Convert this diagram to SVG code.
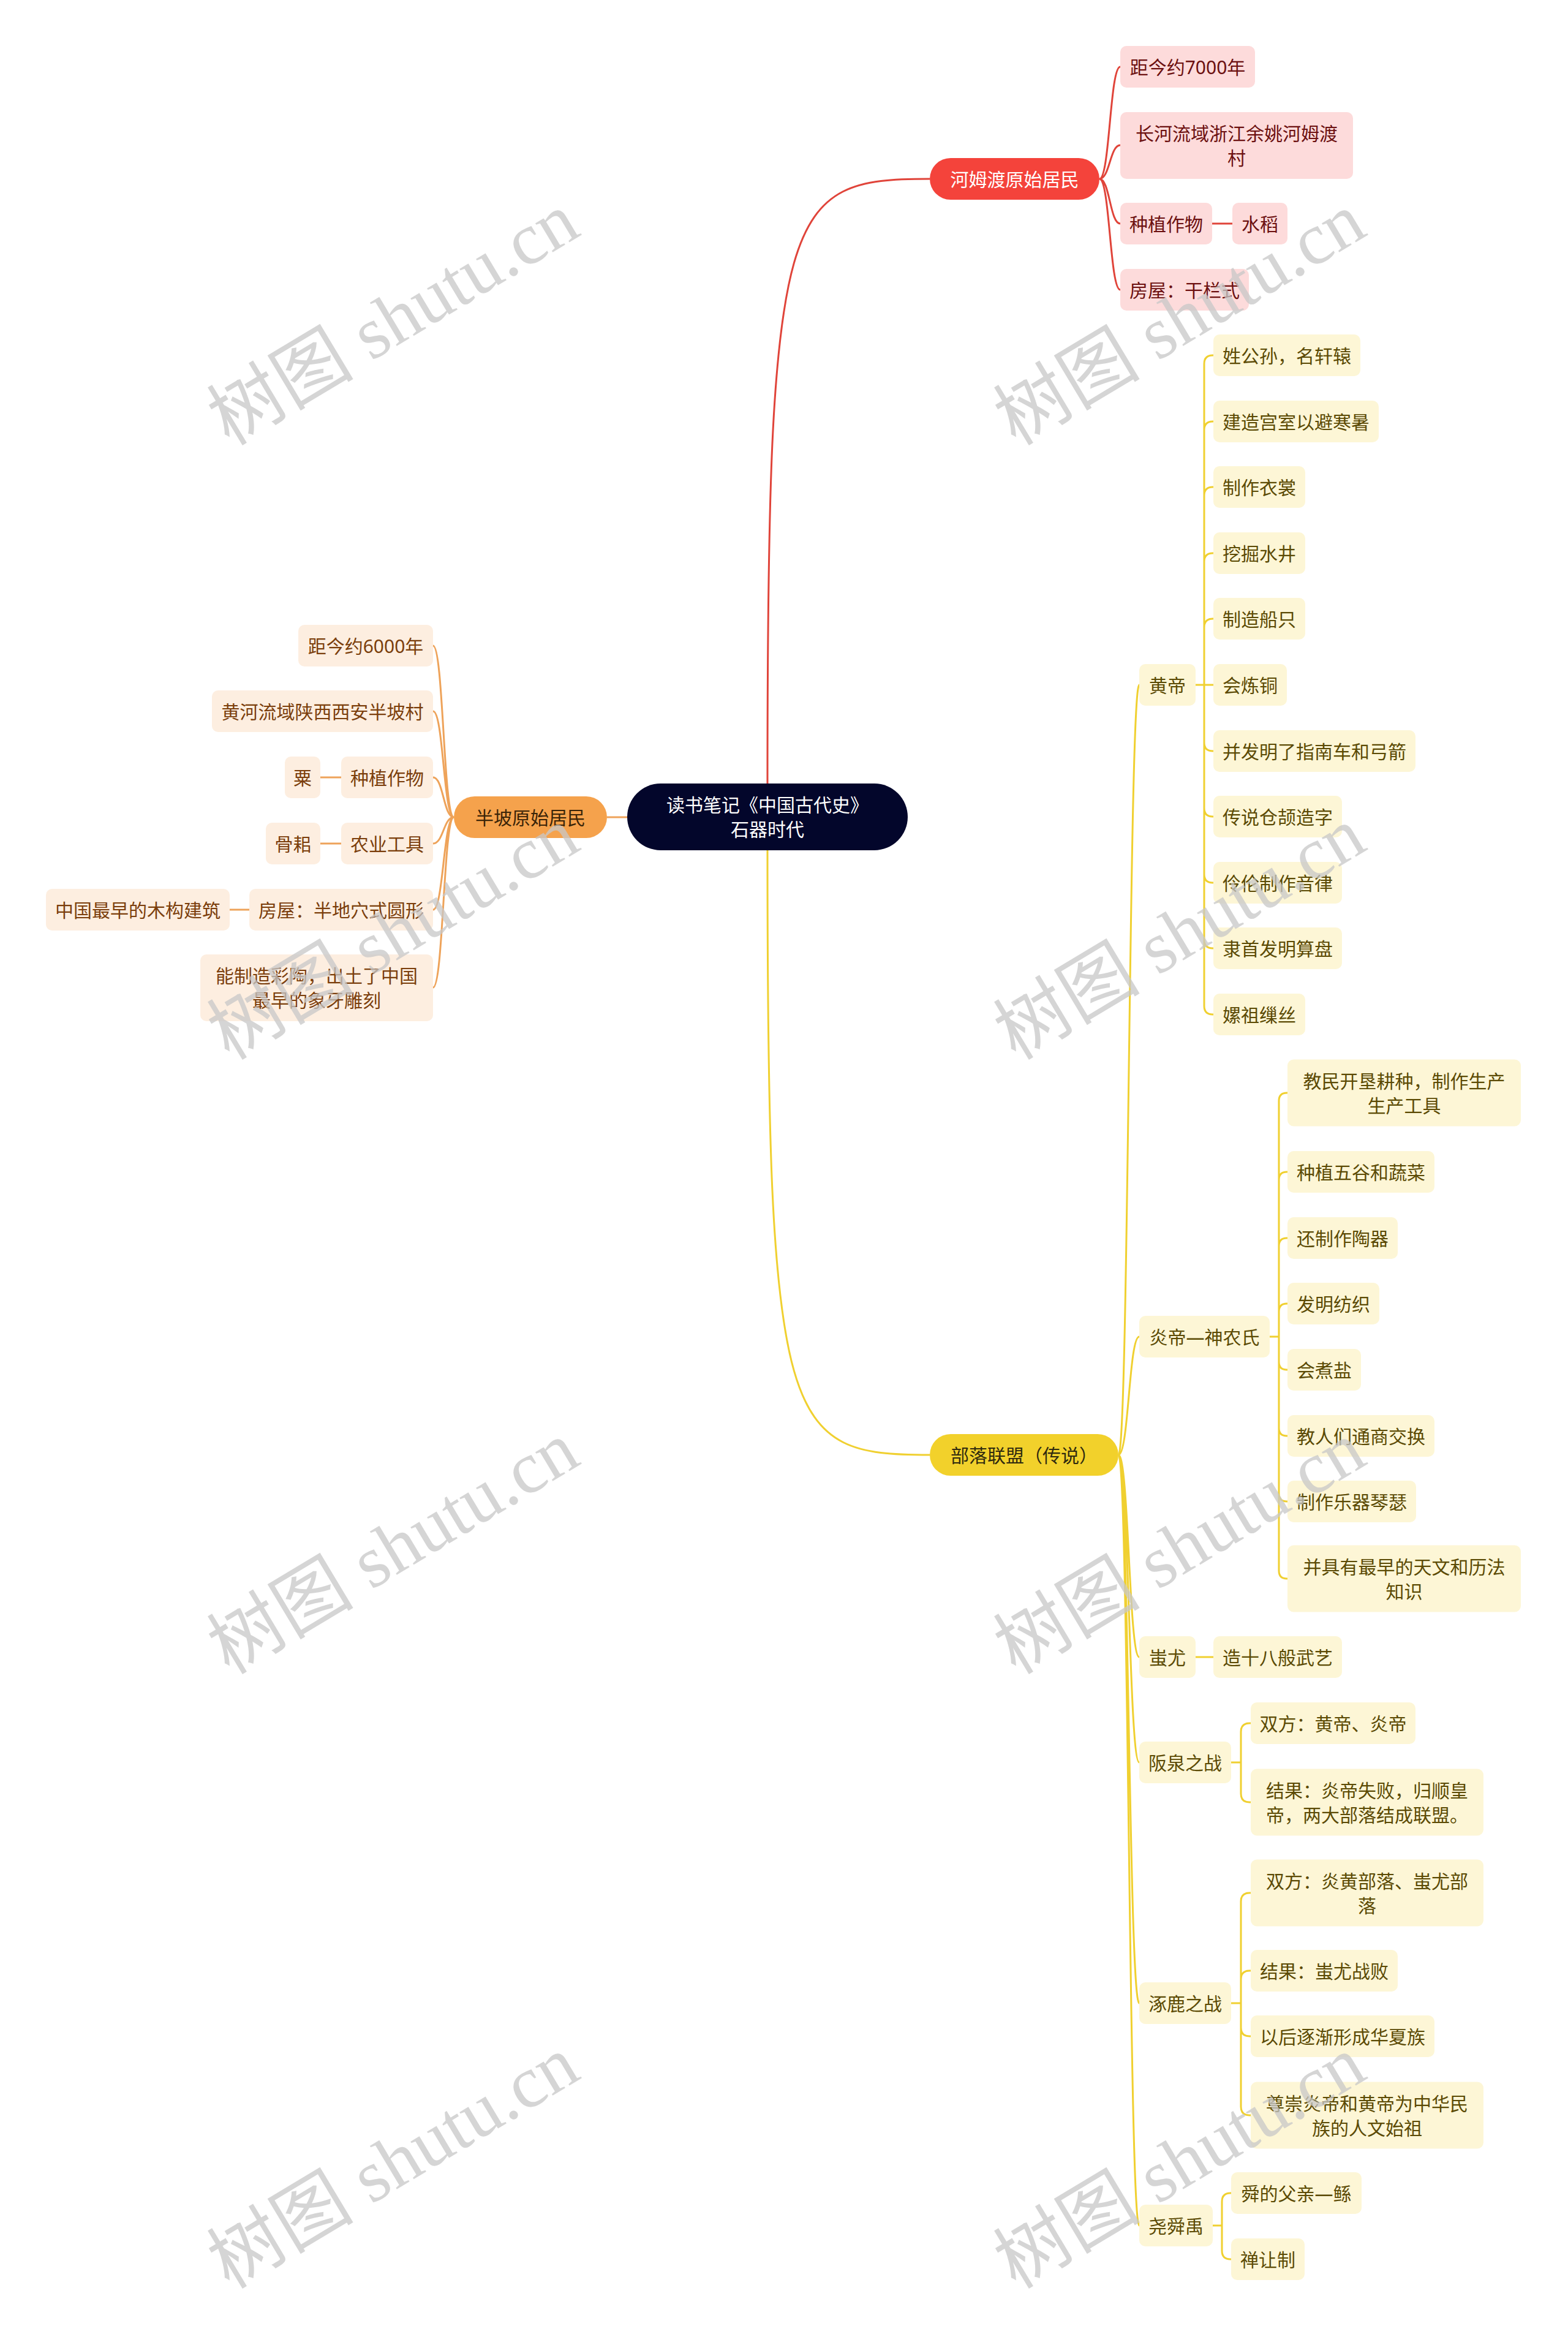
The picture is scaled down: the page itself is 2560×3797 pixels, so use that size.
<svg xmlns="http://www.w3.org/2000/svg" width="2560" height="3797" viewBox="0 0 2560 3797">
<style>
.t{font-family:'Noto Sans','Noto Sans CJK SC',sans-serif;font-size:30px;dominant-baseline:central;text-anchor:middle}
.lr{fill:none;stroke:#e0443a;stroke-width:3}
.lo{fill:none;stroke:#eea35a;stroke-width:3}
.ly{fill:none;stroke:#f0d030;stroke-width:3}
.cr rect{fill:#fddbdb}.cr text{fill:#6c1010}
.co rect{fill:#fdeee0}.co text{fill:#7b3e0c}
.cy rect{fill:#fdf6d6}.cy text{fill:#5b4a04}
.wm{font-family:'Liberation Serif','Noto Sans CJK SC',serif;font-size:120px;fill:#c8c8c8;opacity:0.75;text-anchor:middle;dominant-baseline:central}
</style>
<rect width="2560" height="3797" fill="#ffffff"/>
<g id="connectors">
<path class="lr" d="M1253 1279C1253 330 1280 292 1518 292"/>
<path class="ly" d="M1253 1388C1253 2337 1280 2375 1518 2375"/>
<path class="lo" d="M1024 1334H991"/>
<path class="lr" d="M1795 292C1812 292 1812 109 1829 109M1795 292C1812 292 1812 237 1829 237M1795 292C1812 292 1812 365 1829 365M1795 292C1812 292 1812 473 1829 473M1979 365H2012"/>
<path class="lo" d="M741 1334C724 1334 724 1054 707 1054M741 1334C724 1334 724 1161 707 1161M741 1334C724 1334 724 1269 707 1269M741 1334C724 1334 724 1377 707 1377M741 1334C724 1334 724 1485 707 1485M741 1334C724 1334 724 1612 707 1612M557 1269H523M557 1377H523M407 1485H375"/>
<path class="ly" d="M1826 2375C1843 2375 1843 1118 1860 1118M1826 2375C1843 2375 1843 2182 1860 2182M1826 2375C1843 2375 1843 2705 1860 2705M1826 2375C1843 2375 1843 2877 1860 2877M1826 2375C1843 2375 1843 3270 1860 3270M1826 2375C1843 2375 1843 3633 1860 3633"/>
<path class="ly" d="M1952 1118H1966V594Q1966 580 1980 580H1981M1966 702Q1966 688 1980 688H1981M1966 809Q1966 795 1980 795H1981M1966 917Q1966 903 1980 903H1981M1966 1024Q1966 1010 1980 1010H1981M1952 1118H1981M1966 1118V1642Q1966 1656 1980 1656H1981M1966 1212Q1966 1226 1980 1226H1981M1966 1319Q1966 1333 1980 1333H1981M1966 1427Q1966 1441 1980 1441H1981M1966 1534Q1966 1548 1980 1548H1981"/>
<path class="ly" d="M2073 2182H2088V1797Q2088 1784 2101 1784H2102M2088 1926Q2088 1913 2101 1913H2102M2088 2034Q2088 2021 2101 2021H2102M2088 2141Q2088 2128 2101 2128H2102M2088 2182V2564Q2088 2577 2101 2577H2102M2088 2223Q2088 2236 2101 2236H2102M2088 2331Q2088 2344 2101 2344H2102M2088 2438Q2088 2451 2101 2451H2102"/>
<path class="ly" d="M1952 2705H1981"/>
<path class="ly" d="M2010 2877H2026V2827Q2026 2813 2040 2813H2042M2026 2877V2928Q2026 2942 2040 2942H2042"/>
<path class="ly" d="M2010 3270H2026V3104Q2026 3090 2040 3090H2042M2026 3231Q2026 3217 2040 3217H2042M2026 3270V3439Q2026 3453 2040 3453H2042M2026 3310Q2026 3324 2040 3324H2042"/>
<path class="ly" d="M1980 3633H1995V3594Q1995 3580 2009 3580H2010M1995 3633V3674Q1995 3688 2009 3688H2010"/>
</g>
<g id="n-root"><rect x="1024" y="1279" width="458" height="109" rx="54.5" fill="#03062b"/><text class="t" x="1253" y="1313" fill="#ffffff">读书笔记《中国古代史》</text><text class="t" x="1253" y="1353" fill="#ffffff">石器时代</text></g>
<g id="n-hemudu"><rect x="1518" y="258" width="277" height="68" rx="34" fill="#f4433b"/><text class="t" x="1656.5" y="292" fill="#ffffff">河姆渡原始居民</text></g>
<g id="n-r1" class="cr"><rect x="1829" y="75" width="220" height="68" rx="10"/><text class="t" x="1939" y="109">距今约7000年</text></g>
<g id="n-r2" class="cr"><rect x="1829" y="183" width="380" height="109" rx="10"/><text class="t" x="2019" y="217.5">长河流域浙江余姚河姆渡</text><text class="t" x="2019" y="257.5">村</text></g>
<g id="n-r3" class="cr"><rect x="1829" y="331" width="150" height="68" rx="10"/><text class="t" x="1904" y="365">种植作物</text></g>
<g id="n-r3a" class="cr"><rect x="2012" y="331" width="90" height="68" rx="10"/><text class="t" x="2057" y="365">水稻</text></g>
<g id="n-r4" class="cr"><rect x="1829" y="439" width="210" height="68" rx="10"/><text class="t" x="1934" y="473">房屋：干栏式</text></g>
<g id="n-banpo"><rect x="741" y="1300" width="250" height="68" rx="34" fill="#f5a24c"/><text class="t" x="866" y="1334" fill="#3a2408">半坡原始居民</text></g>
<g id="n-o1" class="co"><rect x="487" y="1020" width="220" height="68" rx="10"/><text class="t" x="597" y="1054">距今约6000年</text></g>
<g id="n-o2" class="co"><rect x="346" y="1127" width="361" height="68" rx="10"/><text class="t" x="526.5" y="1161">黄河流域陕西西安半坡村</text></g>
<g id="n-o3" class="co"><rect x="557" y="1235" width="150" height="68" rx="10"/><text class="t" x="632" y="1269">种植作物</text></g>
<g id="n-o3a" class="co"><rect x="465" y="1235" width="58" height="68" rx="10"/><text class="t" x="494" y="1269">粟</text></g>
<g id="n-o4" class="co"><rect x="557" y="1343" width="150" height="68" rx="10"/><text class="t" x="632" y="1377">农业工具</text></g>
<g id="n-o4a" class="co"><rect x="434" y="1343" width="89" height="68" rx="10"/><text class="t" x="478.5" y="1377">骨耜</text></g>
<g id="n-o5" class="co"><rect x="407" y="1451" width="300" height="68" rx="10"/><text class="t" x="557" y="1485">房屋：半地穴式圆形</text></g>
<g id="n-o5a" class="co"><rect x="75" y="1451" width="300" height="68" rx="10"/><text class="t" x="225" y="1485">中国最早的木构建筑</text></g>
<g id="n-o6" class="co"><rect x="327" y="1558" width="380" height="109" rx="10"/><text class="t" x="517" y="1592.5">能制造彩陶，出土了中国</text><text class="t" x="517" y="1632.5">最早的象牙雕刻</text></g>
<g id="n-buluo"><rect x="1518" y="2341" width="308" height="68" rx="34" fill="#f2d12b"/><text class="t" x="1672" y="2375" fill="#2f2a0f">部落联盟（传说）</text></g>
<g id="n-huangdi" class="cy"><rect x="1860" y="1084" width="92" height="68" rx="10"/><text class="t" x="1906" y="1118">黄帝</text></g>
<g id="n-h1" class="cy"><rect x="1981" y="546" width="240" height="68" rx="10"/><text class="t" x="2101" y="580">姓公孙，名轩辕</text></g>
<g id="n-h2" class="cy"><rect x="1981" y="654" width="270" height="68" rx="10"/><text class="t" x="2116" y="688">建造宫室以避寒暑</text></g>
<g id="n-h3" class="cy"><rect x="1981" y="761" width="150" height="68" rx="10"/><text class="t" x="2056" y="795">制作衣裳</text></g>
<g id="n-h4" class="cy"><rect x="1981" y="869" width="150" height="68" rx="10"/><text class="t" x="2056" y="903">挖掘水井</text></g>
<g id="n-h5" class="cy"><rect x="1981" y="976" width="150" height="68" rx="10"/><text class="t" x="2056" y="1010">制造船只</text></g>
<g id="n-h6" class="cy"><rect x="1981" y="1084" width="120" height="68" rx="10"/><text class="t" x="2041" y="1118">会炼铜</text></g>
<g id="n-h7" class="cy"><rect x="1981" y="1192" width="330" height="68" rx="10"/><text class="t" x="2146" y="1226">并发明了指南车和弓箭</text></g>
<g id="n-h8" class="cy"><rect x="1981" y="1299" width="210" height="68" rx="10"/><text class="t" x="2086" y="1333">传说仓颉造字</text></g>
<g id="n-h9" class="cy"><rect x="1981" y="1407" width="210" height="68" rx="10"/><text class="t" x="2086" y="1441">伶伦制作音律</text></g>
<g id="n-h10" class="cy"><rect x="1981" y="1514" width="210" height="68" rx="10"/><text class="t" x="2086" y="1548">隶首发明算盘</text></g>
<g id="n-h11" class="cy"><rect x="1981" y="1622" width="150" height="68" rx="10"/><text class="t" x="2056" y="1656">嫘祖缫丝</text></g>
<g id="n-yandi" class="cy"><rect x="1860" y="2148" width="213" height="68" rx="10"/><text class="t" x="1966.5" y="2182">炎帝—神农氏</text></g>
<g id="n-y1" class="cy"><rect x="2102" y="1729.5" width="381" height="109" rx="10"/><text class="t" x="2292.5" y="1764">教民开垦耕种，制作生产</text><text class="t" x="2292.5" y="1804">生产工具</text></g>
<g id="n-y2" class="cy"><rect x="2102" y="1879" width="240" height="68" rx="10"/><text class="t" x="2222" y="1913">种植五谷和蔬菜</text></g>
<g id="n-y3" class="cy"><rect x="2102" y="1987" width="180" height="68" rx="10"/><text class="t" x="2192" y="2021">还制作陶器</text></g>
<g id="n-y4" class="cy"><rect x="2102" y="2094" width="150" height="68" rx="10"/><text class="t" x="2177" y="2128">发明纺织</text></g>
<g id="n-y5" class="cy"><rect x="2102" y="2202" width="120" height="68" rx="10"/><text class="t" x="2162" y="2236">会煮盐</text></g>
<g id="n-y6" class="cy"><rect x="2102" y="2310" width="240" height="68" rx="10"/><text class="t" x="2222" y="2344">教人们通商交换</text></g>
<g id="n-y7" class="cy"><rect x="2102" y="2417" width="210" height="68" rx="10"/><text class="t" x="2207" y="2451">制作乐器琴瑟</text></g>
<g id="n-y8" class="cy"><rect x="2102" y="2522.5" width="381" height="109" rx="10"/><text class="t" x="2292.5" y="2557">并具有最早的天文和历法</text><text class="t" x="2292.5" y="2597">知识</text></g>
<g id="n-chiyou" class="cy"><rect x="1860" y="2671" width="92" height="68" rx="10"/><text class="t" x="1906" y="2705">蚩尤</text></g>
<g id="n-c1" class="cy"><rect x="1981" y="2671" width="210" height="68" rx="10"/><text class="t" x="2086" y="2705">造十八般武艺</text></g>
<g id="n-banquan" class="cy"><rect x="1860" y="2843" width="150" height="68" rx="10"/><text class="t" x="1935" y="2877">阪泉之战</text></g>
<g id="n-b1" class="cy"><rect x="2042" y="2779" width="269" height="68" rx="10"/><text class="t" x="2176.5" y="2813">双方：黄帝、炎帝</text></g>
<g id="n-b2" class="cy"><rect x="2042" y="2887.5" width="380" height="109" rx="10"/><text class="t" x="2232" y="2922">结果：炎帝失败，归顺皇</text><text class="t" x="2232" y="2962">帝，两大部落结成联盟。</text></g>
<g id="n-zhuolu" class="cy"><rect x="1860" y="3236" width="150" height="68" rx="10"/><text class="t" x="1935" y="3270">涿鹿之战</text></g>
<g id="n-z1" class="cy"><rect x="2042" y="3035.5" width="380" height="109" rx="10"/><text class="t" x="2232" y="3070">双方：炎黄部落、蚩尤部</text><text class="t" x="2232" y="3110">落</text></g>
<g id="n-z2" class="cy"><rect x="2042" y="3183" width="240" height="68" rx="10"/><text class="t" x="2162" y="3217">结果：蚩尤战败</text></g>
<g id="n-z3" class="cy"><rect x="2042" y="3290" width="300" height="68" rx="10"/><text class="t" x="2192" y="3324">以后逐渐形成华夏族</text></g>
<g id="n-z4" class="cy"><rect x="2042" y="3398.5" width="380" height="109" rx="10"/><text class="t" x="2232" y="3433">尊崇炎帝和黄帝为中华民</text><text class="t" x="2232" y="3473">族的人文始祖</text></g>
<g id="n-yaoshunyu" class="cy"><rect x="1860" y="3599" width="120" height="68" rx="10"/><text class="t" x="1920" y="3633">尧舜禹</text></g>
<g id="n-s1" class="cy"><rect x="2010" y="3546" width="213" height="68" rx="10"/><text class="t" x="2116.5" y="3580">舜的父亲—鲧</text></g>
<g id="n-s2" class="cy"><rect x="2010" y="3654" width="120" height="68" rx="10"/><text class="t" x="2070" y="3688">禅让制</text></g>
<g id="watermarks">
<text class="wm" transform="translate(642 521) rotate(-31)">树图 shutu.cn</text>
<text class="wm" transform="translate(1926 521) rotate(-31)">树图 shutu.cn</text>
<text class="wm" transform="translate(642 1524) rotate(-31)">树图 shutu.cn</text>
<text class="wm" transform="translate(1926 1524) rotate(-31)">树图 shutu.cn</text>
<text class="wm" transform="translate(642 2527) rotate(-31)">树图 shutu.cn</text>
<text class="wm" transform="translate(1926 2527) rotate(-31)">树图 shutu.cn</text>
<text class="wm" transform="translate(642 3530) rotate(-31)">树图 shutu.cn</text>
<text class="wm" transform="translate(1926 3530) rotate(-31)">树图 shutu.cn</text>
</g>
</svg>
